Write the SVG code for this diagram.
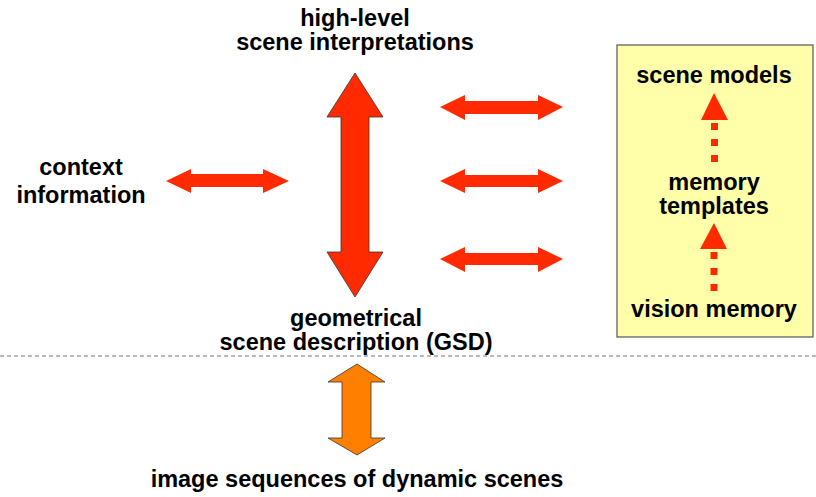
<svg xmlns="http://www.w3.org/2000/svg" width="816" height="497" viewBox="0 0 816 497">
<style>
text{font-family:"Liberation Sans",Arial,Helvetica,sans-serif;font-weight:bold;font-size:23.5px;fill:#000;text-anchor:middle}
.red{fill:#FF2A00}
.redS{fill:#FF2A00;stroke:#333;stroke-width:0.8}
.orange{fill:#FF8000;stroke:#333;stroke-width:0.8}
.dash{stroke:#FF2A00;stroke-width:7;stroke-dasharray:7 9;fill:none}
</style>
<rect width="816" height="497" fill="#fff"/>
<g id="memory-box">
<rect x="617" y="45" width="196" height="292" fill="#FFFFAA" stroke="#555" stroke-width="1.2"/>
<text x="714" y="83">scene models</text>
<text x="714" y="190">memory</text>
<text x="714" y="214">templates</text>
<text x="714" y="317">vision memory</text>
</g>
<g id="high-level">
<text x="355" y="26">high-level</text>
<text x="355" y="50">scene interpretations</text>
</g>
<g id="context">
<text x="81" y="175">context</text>
<text x="81" y="203">information</text>
</g>
<g id="gsd">
<text x="356" y="326">geometrical</text>
<text x="356" y="350">scene description (GSD)</text>
</g>
<g id="image-sequences">
<text x="357" y="487">image sequences of dynamic scenes</text>
</g>
<line x1="0" y1="356" x2="816" y2="356" stroke="#777" stroke-width="1" stroke-dasharray="4 3"/>
<g id="connectors">
<polygon class="redS" points="355,73 383,117 369,117 369,252 383,252 355,297 327,252 341,252 341,117 327,117"/>
<polygon class="red" points="166,181 191,169 191,174 263,174 263,169 289,181 263,193 263,187 191,187 191,193"/>
<polygon class="red" points="440,107 465,95 465,101 538,101 538,95 563,107 538,120 538,114 465,114 465,120"/>
<polygon class="red" points="440,181 465,169 465,175 538,175 538,169 563,181 538,193 538,187 465,187 465,193"/>
<polygon class="red" points="440,259 465,247 465,253 538,253 538,247 563,259 538,272 538,265 465,265 465,272"/>
<polygon class="orange" points="357,364 385,382 371,382 371,438 385,438 357,455 328,438 342,438 342,382 328,382"/>
<polygon class="red" points="714,93 728,120 701,120"/>
<line class="dash" x1="714.5" y1="123" x2="714.5" y2="163"/>
<polygon class="red" points="714,223 727,249 700,249"/>
<line class="dash" x1="714" y1="252" x2="714" y2="292"/>
</g>
</svg>
